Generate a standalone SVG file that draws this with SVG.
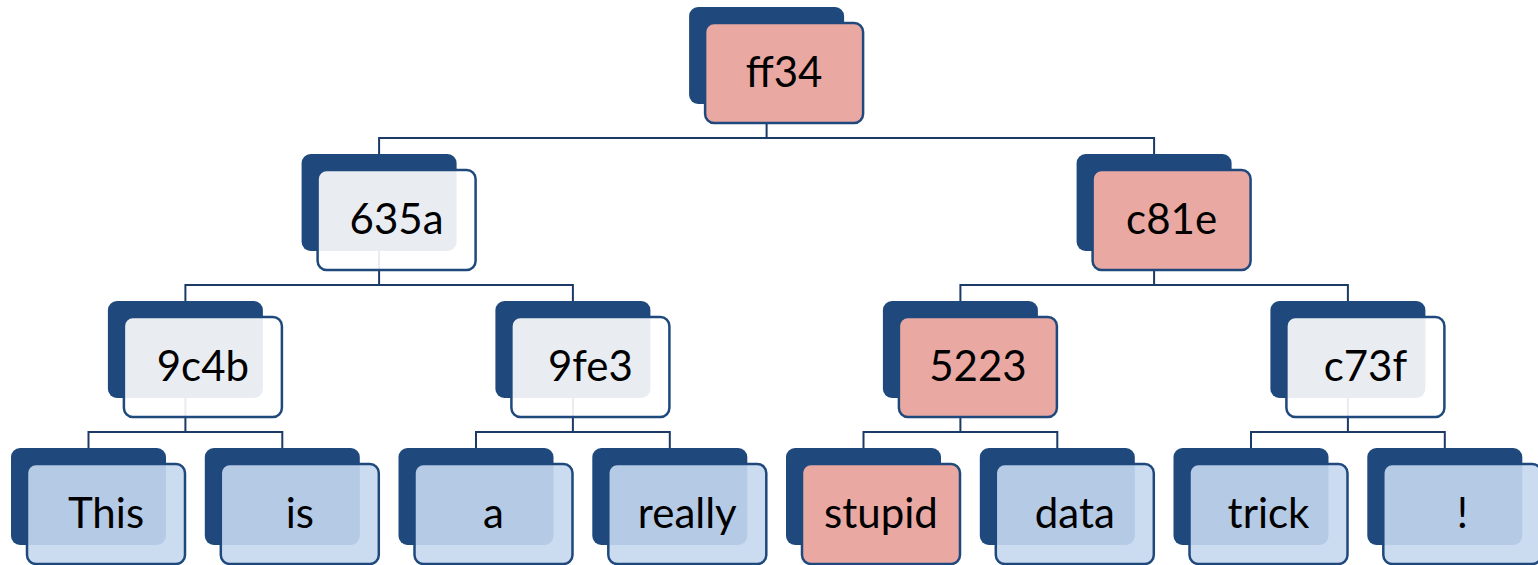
<svg xmlns="http://www.w3.org/2000/svg" width="1538" height="565" viewBox="0 0 1538 565">
  <style>
    .back { fill: #1F497D; }
    .front { stroke: #1F497D; stroke-width: 2.5; }
    .pink { fill: #E9A8A2; }
    .white { fill: #FFFFFF; fill-opacity: 0.9; }
    .blue { fill: #C5D8EF; fill-opacity: 0.9; }
    .link { fill: none; stroke: #1C3A66; stroke-width: 2; }
    .label { font-family: Lato, "Open Sans", "Liberation Sans", sans-serif; font-size: 42px; fill: #000; text-anchor: middle; }
  </style>
  <rect width="1538" height="565" fill="#FFFFFF"/>

  <!-- tree connectors: elbow links from each parent to its two children -->
  <g id="connectors" class="link">
    <path d="M379.1,154 V138 H1154.1 V154 M766.6,104 V138"/>
    <path d="M185.4,301 V285 H572.9 V301 M379.1,251 V285"/>
    <path d="M960.4,301 V285 H1347.9 V301 M1154.1,251 V285"/>
    <path d="M88.5,448 V432 H282.3 V448 M185.4,398 V432"/>
    <path d="M476,448 V432 H669.8 V448 M572.9,398 V432"/>
    <path d="M863.5,448 V432 H1057.3 V448 M960.4,398 V432"/>
    <path d="M1251,448 V432 H1444.8 V448 M1347.9,398 V432"/>
  </g>

  <!-- root -->
  <g id="node-ff34">
    <rect class="back" x="689.1" y="7" width="155" height="97" rx="9"/>
    <rect class="front pink" x="705.1" y="23" width="158" height="100" rx="9"/>
    <text class="label" x="784.1" y="87">ff34</text>
  </g>

  <!-- level 1 -->
  <g id="node-635a">
    <rect class="back" x="301.6" y="154" width="155" height="97" rx="9"/>
    <rect class="front white" x="317.6" y="170" width="158" height="100" rx="9"/>
    <text class="label" x="396.6" y="234">635a</text>
  </g>
  <g id="node-c81e">
    <rect class="back" x="1076.6" y="154" width="155" height="97" rx="9"/>
    <rect class="front pink" x="1092.6" y="170" width="158" height="100" rx="9"/>
    <text class="label" x="1171.6" y="234">c81e</text>
  </g>

  <!-- level 2 -->
  <g id="node-9c4b">
    <rect class="back" x="107.9" y="301" width="155" height="97" rx="9"/>
    <rect class="front white" x="123.9" y="317" width="158" height="100" rx="9"/>
    <text class="label" x="202.9" y="381">9c4b</text>
  </g>
  <g id="node-9fe3">
    <rect class="back" x="495.4" y="301" width="155" height="97" rx="9"/>
    <rect class="front white" x="511.4" y="317" width="158" height="100" rx="9"/>
    <text class="label" x="590.4" y="381">9fe3</text>
  </g>
  <g id="node-5223">
    <rect class="back" x="882.9" y="301" width="155" height="97" rx="9"/>
    <rect class="front pink" x="898.9" y="317" width="158" height="100" rx="9"/>
    <text class="label" x="977.9" y="381">5223</text>
  </g>
  <g id="node-c73f">
    <rect class="back" x="1270.4" y="301" width="155" height="97" rx="9"/>
    <rect class="front white" x="1286.4" y="317" width="158" height="100" rx="9"/>
    <text class="label" x="1365.4" y="381">c73f</text>
  </g>

  <!-- leaves -->
  <g id="leaf-this">
    <rect class="back" x="11" y="448" width="155" height="97" rx="9"/>
    <rect class="front blue" x="27" y="464" width="158" height="100" rx="9"/>
    <text class="label" x="106" y="528">This</text>
  </g>
  <g id="leaf-is">
    <rect class="back" x="204.8" y="448" width="155" height="97" rx="9"/>
    <rect class="front blue" x="220.8" y="464" width="158" height="100" rx="9"/>
    <text class="label" x="299.8" y="528">is</text>
  </g>
  <g id="leaf-a">
    <rect class="back" x="398.5" y="448" width="155" height="97" rx="9"/>
    <rect class="front blue" x="414.5" y="464" width="158" height="100" rx="9"/>
    <text class="label" x="493.5" y="528">a</text>
  </g>
  <g id="leaf-really">
    <rect class="back" x="592.3" y="448" width="155" height="97" rx="9"/>
    <rect class="front blue" x="608.3" y="464" width="158" height="100" rx="9"/>
    <text class="label" x="687.3" y="528">really</text>
  </g>
  <g id="leaf-stupid">
    <rect class="back" x="786" y="448" width="155" height="97" rx="9"/>
    <rect class="front pink" x="802" y="464" width="158" height="100" rx="9"/>
    <text class="label" x="881" y="528">stupid</text>
  </g>
  <g id="leaf-data">
    <rect class="back" x="979.8" y="448" width="155" height="97" rx="9"/>
    <rect class="front blue" x="995.8" y="464" width="158" height="100" rx="9"/>
    <text class="label" x="1074.8" y="528">data</text>
  </g>
  <g id="leaf-trick">
    <rect class="back" x="1173.5" y="448" width="155" height="97" rx="9"/>
    <rect class="front blue" x="1189.5" y="464" width="158" height="100" rx="9"/>
    <text class="label" x="1268.5" y="528">trick</text>
  </g>
  <g id="leaf-bang">
    <rect class="back" x="1367.3" y="448" width="155" height="97" rx="9"/>
    <rect class="front blue" x="1383.3" y="464" width="158" height="100" rx="9"/>
    <text class="label" x="1462.3" y="528">!</text>
  </g>
</svg>
